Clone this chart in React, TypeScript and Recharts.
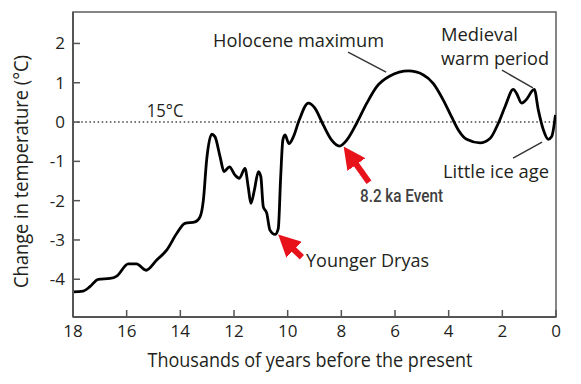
import { LineChart, Line, XAxis, YAxis, ReferenceLine, ReferenceArea } from 'recharts';

// thousands of years before present
const years = [
  18.0, 17.62, 17.37, 17.06, 16.62, 16.37, 15.94, 15.63, 15.28, 14.88, 14.51, 14.13, 13.83, 13.45, 13.27,
  13.14, 13.02, 12.83, 12.71, 12.52, 12.37, 12.17, 11.96, 11.8, 11.59, 11.47, 11.37, 11.24, 11.09, 11.0,
  10.91, 10.78, 10.66, 10.47, 10.35, 10.26, 10.18, 10.1, 9.95, 9.79, 9.57, 9.23, 8.98, 8.67, 8.36, 8.07,
  7.8, 7.43, 7.05, 6.68, 6.19, 5.5, 4.94, 4.57, 4.2, 3.89, 3.64, 3.33, 2.83, 2.46, 2.15, 1.9, 1.59, 1.47,
  1.28, 1.12, 0.81, 0.66, 0.47, 0.29, 0.16, 0.02,
];
// change in temperature, °C
const temps = [
  -4.32, -4.3, -4.19, -4.0, -3.98, -3.92, -3.61, -3.61, -3.77, -3.51, -3.26, -2.83, -2.58, -2.54, -2.42,
  -1.98, -0.97, -0.31, -0.37, -0.88, -1.26, -1.14, -1.35, -1.43, -1.18, -1.65, -2.07, -1.73, -1.26, -1.39,
  -2.15, -2.32, -2.75, -2.86, -2.71, -1.39, -0.46, -0.33, -0.55, -0.38, 0.05, 0.48, 0.35, -0.08, -0.46, -0.61,
  -0.46, -0.03, 0.48, 0.9, 1.17, 1.3, 1.2, 0.98, 0.56, 0.13, -0.2, -0.44, -0.53, -0.42, -0.03, 0.39, 0.83, 0.73,
  0.48, 0.56, 0.83, 0.31, -0.2, -0.44, -0.37, 0.18,
];
const xTicks = [0, 2, 4, 6, 8, 10, 12, 14, 16, 18];
const yTicks = [-4, -3, -2, -1, 0, 1, 2];

const data = years.map((year, i) => ({ year, temp: temps[i] }));

const font = '"Open Sans", sans-serif';
const ink = '#231f20';

export default function App() {
  return (
    <div style={{ width: 573, height: 376, position: 'relative' }}>
      <svg width={0} height={0} style={{ position: 'absolute' }}>
        <defs>
          <marker id="redHead" markerUnits="userSpaceOnUse" markerWidth={22} markerHeight={22} refX={1} refY={11} orient="auto">
            <path d="M0,0 L22,11 L0,22 z" fill="#e8121b" />
          </marker>
        </defs>
      </svg>
      <LineChart width={573} height={376} data={data} margin={{ top: 4, right: 25, left: 0, bottom: 0 }}>
        <ReferenceArea x1={18} x2={0} y1={-4.96} y2={2.8} fill="none" stroke="#5d5d5d" strokeWidth={1.5} ifOverflow="visible" />
        <XAxis
          dataKey="year"
          type="number"
          domain={[0, 18]}
          reversed
          ticks={xTicks}
          height={67}
          tickSize={-7}
          tickMargin={15}
          axisLine={{ stroke: '#555', strokeWidth: 2 }}
          tickLine={{ stroke: '#555', strokeWidth: 1.5 }}
          tick={{ fill: ink, fontSize: 17, fontFamily: font }}
          allowDataOverflow
        />
        <YAxis
          type="number"
          domain={[-4.96, 2.8]}
          ticks={yTicks}
          width={65}
          tickSize={-7}
          tickMargin={15}
          axisLine={{ stroke: '#555', strokeWidth: 2 }}
          tickLine={{ stroke: '#555', strokeWidth: 1.5 }}
          tick={{ fill: ink, fontSize: 17, fontFamily: font }}
          allowDataOverflow
        />
        <ReferenceLine y={0} stroke="#444" strokeWidth={1.5} strokeDasharray="1.5 2.6" />
        <Line type="monotone" dataKey="temp" stroke="#000" strokeWidth={2.8} dot={false} isAnimationActive={false} />

        {/* leader lines */}
        <ReferenceLine segment={[{ x: 7.75, y: 1.78 }, { x: 6.33, y: 1.27 }]} stroke="#333" strokeWidth={1.4} ifOverflow="visible" />
        <ReferenceLine segment={[{ x: 2.01, y: 1.32 }, { x: 0.86, y: 0.87 }]} stroke="#333" strokeWidth={1.4} ifOverflow="visible" />
        <ReferenceLine segment={[{ x: 1.6, y: -0.92 }, { x: 0.52, y: -0.51 }]} stroke="#333" strokeWidth={1.4} ifOverflow="visible" />

        {/* red arrows */}
        <ReferenceLine segment={[{ x: 6.97, y: -1.53 }, { x: 7.46, y: -1.06 }]} stroke="#e8121b" strokeWidth={6} markerEnd="url(#redHead)" ifOverflow="visible" />
        <ReferenceLine segment={[{ x: 9.47, y: -3.44 }, { x: 9.79, y: -3.23 }]} stroke="#e8121b" strokeWidth={6} markerEnd="url(#redHead)" ifOverflow="visible" />

        <text x={138.7} y={108.7} fontSize={18} fontFamily={font} fill={ink} textLength={36.7} lengthAdjust="spacingAndGlyphs">15°C</text>
        <text x={205} y={38.7} fontSize={18.5} fontFamily={font} fill={ink} textLength={171} lengthAdjust="spacingAndGlyphs">Holocene maximum</text>
        <text x={433} y={32.7} fontSize={18.5} fontFamily={font} fill={ink} textLength={77} lengthAdjust="spacingAndGlyphs">Medieval</text>
        <text x={433} y={57} fontSize={18.5} fontFamily={font} fill={ink} textLength={108} lengthAdjust="spacingAndGlyphs">warm period</text>
        <text x={435} y={170.3} fontSize={18.5} fontFamily={font} fill={ink} textLength={106} lengthAdjust="spacingAndGlyphs">Little ice age</text>
        <text x={298} y={259.3} fontSize={18.5} fontFamily={font} fill={ink} textLength={123} lengthAdjust="spacingAndGlyphs">Younger Dryas</text>
        <text x={352} y={194} fontSize={19} fontWeight={500} fontFamily="Roboto, sans-serif" fill="#3f3f3f" textLength={83} lengthAdjust="spacingAndGlyphs">8.2 ka Event</text>

        <text x={302} y={359} textAnchor="middle" fontSize={20} fontFamily={font} fill={ink} textLength={325} lengthAdjust="spacingAndGlyphs">
          Thousands of years before the present
        </text>
        <text x={20} y={163.5} transform="rotate(-90 20 163.5)" textAnchor="middle" fontSize={20} fontFamily={font} fill={ink} textLength={233} lengthAdjust="spacingAndGlyphs">
          Change in temperature (°C)
        </text>
      </LineChart>
    </div>
  );
}
